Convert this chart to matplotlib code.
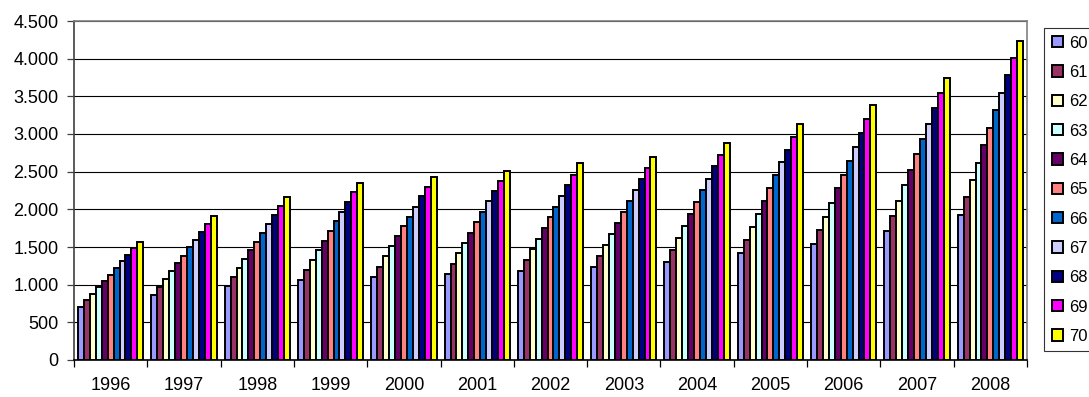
import matplotlib
matplotlib.use("Agg")
import matplotlib.pyplot as plt
import numpy as np
from matplotlib.ticker import FuncFormatter, FixedLocator
from matplotlib.patches import Patch

years = ["1996", "1997", "1998", "1999", "2000", "2001", "2002",
         "2003", "2004", "2005", "2006", "2007", "2008"]
series_names = ["60", "61", "62", "63", "64", "65", "66", "67", "68", "69", "70"]

s60 = [708, 867, 982, 1062, 1108, 1139, 1184, 1232, 1304, 1424, 1538, 1707, 1924]
s61 = [796, 973, 1097, 1199, 1241, 1277, 1325, 1374, 1459, 1591, 1720, 1906, 2159]
s62 = [880, 1080, 1217, 1327, 1374, 1418, 1467, 1525, 1622, 1764, 1901, 2114, 2389]
s63 = [965, 1177, 1336, 1456, 1507, 1551, 1609, 1671, 1777, 1936, 2087, 2323, 2620]
s64 = [1053, 1288, 1456, 1584, 1640, 1689, 1751, 1813, 1936, 2109, 2281, 2527, 2855]
s65 = [1133, 1385, 1571, 1712, 1773, 1826, 1893, 1968, 2091, 2281, 2458, 2730, 3085]
s66 = [1226, 1496, 1690, 1841, 1902, 1964, 2035, 2114, 2255, 2454, 2648, 2934, 3320]
s67 = [1314, 1593, 1810, 1965, 2035, 2106, 2176, 2261, 2409, 2626, 2829, 3138, 3546]
s68 = [1394, 1704, 1920, 2093, 2172, 2239, 2323, 2408, 2569, 2794, 3019, 3347, 3777]
s69 = [1482, 1805, 2040, 2226, 2301, 2376, 2460, 2552, 2719, 2962, 3201, 3546, 4007]
s70 = [1566, 1907, 2159, 2354, 2434, 2513, 2611, 2697, 2882, 3134, 3386, 3750, 4238]

series = [s60, s61, s62, s63, s64, s65, s66, s67, s68, s69, s70]
colors = ["#9999FF", "#993366", "#FFFFCC", "#CCFFFF", "#660066", "#FF8080",
          "#0066CC", "#CCCCFF", "#000080", "#FF00FF", "#FFFF00"]

plt.rcParams['font.family'] = ['Liberation Sans', 'DejaVu Sans']

W, H = 1089, 397
fig = plt.figure(figsize=(W / 100, H / 100), dpi=100)
ax = fig.add_axes([74 / W, (H - 360) / H, (1027 - 74) / W, (360 - 21) / H])

n = len(series)
x = np.arange(len(years))
group = 0.89
bw = group / n
for i, (vals, c, name) in enumerate(zip(series, colors, series_names)):
    offs = -group / 2 + bw * (i + 0.5)
    ax.bar(x + offs, vals, width=bw, color=c, edgecolor="black",
           linewidth=1.4, label=name, zorder=3)

ax.set_xlim(-0.5, len(years) - 0.5)
ax.set_ylim(0, 4500)
ax.set_yticks(np.arange(0, 4501, 500))
ax.yaxis.set_major_formatter(FuncFormatter(lambda v, p: f"{int(v):,}".replace(",", ".")))
ax.yaxis.grid(True, color="#000000", linewidth=0.8, zorder=0)
ax.set_axisbelow(True)

ax.set_xticks(x)
ax.set_xticklabels(years)
ax.xaxis.set_minor_locator(FixedLocator(np.arange(-0.5, len(years), 1.0)))
ax.tick_params(axis="x", which="major", length=0, pad=12, labelsize=13)
ax.tick_params(axis="x", which="minor", length=5, width=0.9, direction="out", color="black")
ax.tick_params(axis="y", which="major", length=5, width=0.9, direction="out",
               labelsize=13, pad=6, color="#404040")

ax.spines["top"].set_color("#808080")
ax.spines["right"].set_color("#808080")
ax.spines["left"].set_color("#404040")
ax.spines["bottom"].set_color("black")
for s in ax.spines.values():
    s.set_linewidth(1.2)

handles = [Patch(facecolor=c, edgecolor="black", linewidth=1.4) for c in colors]
leg = fig.legend(handles, series_names, loc="upper left",
                 bbox_to_anchor=(1044 / W, (H - 28) / H),
                 frameon=True, fancybox=False, edgecolor="black",
                 fontsize=12, handlelength=0.68, handleheight=0.68,
                 handletextpad=0.35, labelspacing=0.86, borderpad=0.45,
                 borderaxespad=0)
leg.get_frame().set_linewidth(0.8)

fig.savefig("out.png", dpi=100)
